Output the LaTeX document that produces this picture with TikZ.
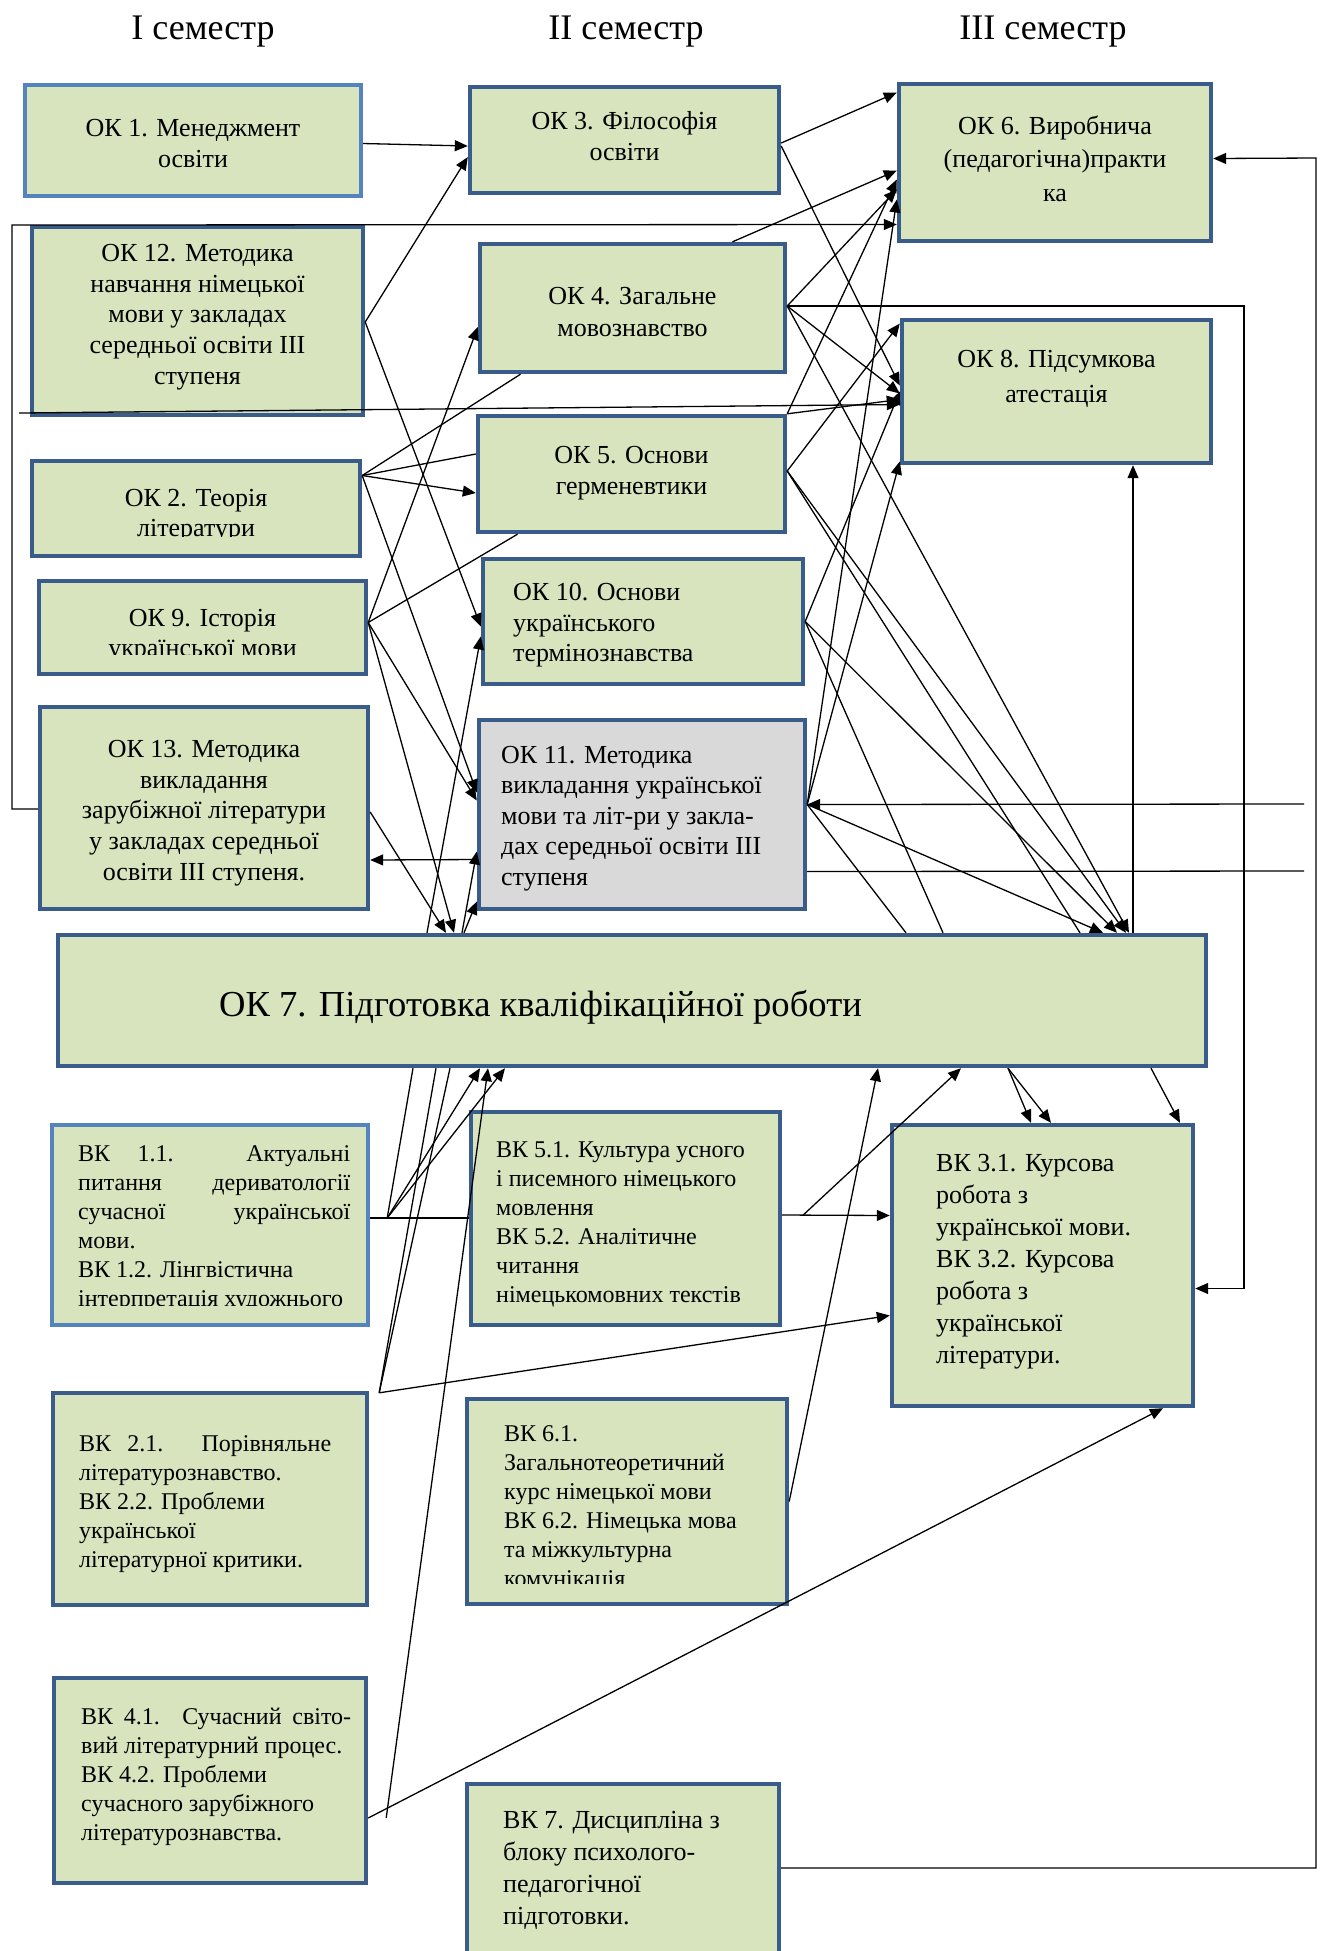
\documentclass[tikz,border=0pt]{standalone}
\usepackage{fontspec}
\setmainfont{Liberation Serif}
\usetikzlibrary{arrows.meta,calc,fit}
\hyphenpenalty=10000
\exhyphenpenalty=10000

\definecolor{boxfill}{RGB}{215,228,189}
\definecolor{boxline}{RGB}{58,92,138}
\definecolor{boxlight}{RGB}{84,131,190}
\definecolor{boxgrey}{RGB}{217,217,217}

\begin{document}
\begin{tikzpicture}[x=0.5pt,y=-0.5pt,
    okbox/.style={draw=boxline,fill=boxfill,line width=2.2pt,inner sep=0pt},
    lightbox/.style={okbox,draw=boxlight},
    greybox/.style={okbox,fill=boxgrey},
    oktext/.style={inner sep=0pt,align=center,font=\fontsize{13}{15.3}\selectfont},
    okleft/.style={oktext,align=left,anchor=west},
    vktext/.style={inner sep=0pt,align=left,anchor=north west,font=\fontsize{12}{14.5}\selectfont},
    vkbig/.style={vktext,font=\fontsize{13}{16}\selectfont},
    vkjust/.style={vktext,align=justify,text width=#1},
    semtext/.style={inner sep=0pt,font=\fontsize{18}{22}\selectfont},
    link/.style={line width=0.65pt},
    arr/.style={link,-{Triangle[length=6.5pt,width=5.5pt]}}]
  \useasboundingbox (0,0) rectangle (1331,1951);

  % semesters
  \node[semtext] (sem1) at (203,32) {I семестр};
  \node[semtext] (sem2) at (626,32) {II семестр};
  \node[semtext] (sem3) at (1043,32) {III семестр};

  % column I
  \node[lightbox,fit={(25,85) (361,196)}] (ok1) {};
  \node[okbox,fit={(32,227) (363,415)}] (ok12) {};
  \node[okbox,fit={(32,461) (360,556)}] (ok2) {};
  \node[okbox,fit={(39,581) (366,674)}] (ok9) {};
  \node[okbox,fit={(40,707) (368,909)}] (ok13) {};
  % column II
  \node[okbox,fit={(470,87) (779,193)}] (ok3) {};
  \node[okbox,fit={(480,244) (785,372)}] (ok4) {};
  \node[okbox,fit={(478,416) (785,532)}] (ok5) {};
  \node[okbox,fit={(483,559) (803,684)}] (ok10) {};
  \node[greybox,fit={(479,720) (805,909)}] (ok11) {};
  % column III
  \node[okbox,fit={(899,84) (1211,241)}] (ok6) {};
  \node[okbox,fit={(902,320) (1211,463)}] (ok8) {};
  % qualification work
  \node[okbox,fit={(58,935) (1206,1066)}] (ok7) {};
  % electives
  \node[lightbox,fit={(52,1125) (368,1325)}] (vk1) {};
  \node[okbox,fit={(471,1112) (780,1325)}] (vk5) {};
  \node[okbox,fit={(892,1125) (1193,1406)}] (vk3) {};
  \node[okbox,fit={(53,1393) (367,1605)}] (vk2) {};
  \node[okbox,fit={(467,1399) (787,1604)}] (vk6) {};
  \node[okbox,fit={(54,1678) (366,1883)}] (vk4) {};
  \node[okbox,fit={(467,1784) (779,1970)}] (vk7) {};

  % texts
  \node[oktext] (ok1t) at ($(ok1.center)+(0,3)$) {ОК 1. Менеджмент\\освіти};
  \node[oktext] (ok12t) at ($(ok12.center)+(0,-4)$) {ОК 12. Методика\\навчання німецької\\мови у закладах\\середньої освіти III\\ступеня};
  \begin{scope}
    \clip (ok2.north west) rectangle ($(ok2.south east)+(0,-22)$);
    \node[oktext] (ok2t) at ($(ok2.center)+(0,7)$) {ОК 2. Теорія\\літератури};
  \end{scope}
  \begin{scope}
    \clip (ok9.north west) rectangle ($(ok9.south east)+(0,-22)$);
    \node[oktext] (ok9t) at ($(ok9.center)+(0,8)$) {ОК 9. Історія\\української мови};
  \end{scope}
  \node[oktext] (ok13t) at ($(ok13.center)+(0,5)$) {ОК 13. Методика\\викладання\\зарубіжної літератури\\у закладах середньої\\освіти III ступеня.};
  \node[oktext] (ok3t) at ($(ok3.center)+(0,-4)$) {ОК 3. Філософія\\освіти};
  \node[oktext,font=\fontsize{13}{16}\selectfont] (ok4t) at ($(ok4.center)+(0,4)$) {ОК 4. Загальне\\мовознавство};
  \node[oktext] (ok5t) at ($(ok5.center)+(0,-1)$) {ОК 5. Основи\\герменевтики};
  \node[okleft] (ok10t) at ($(ok10.west)+(32,4)$) {ОК 10. Основи\\українського\\термінознавства};
  \node[okleft] (ok11t) at ($(ok11.west)+(24,4)$) {ОК 11. Методика\\викладання української\\мови та літ-ри у закла-\\дах середньої освіти III\\ступеня};
  \node[oktext,font=\fontsize{13}{16.8}\selectfont] (ok6t) at ($(ok6.center)+(0,-4)$) {ОК 6. Виробнича\\(педагогічна)практи\\ка};
  \node[oktext,font=\fontsize{13}{17.4}\selectfont] (ok8t) at ($(ok8.center)+(0,-13)$) {ОК 8. Підсумкова\\атестація};
  \node[okleft,font=\fontsize{18.3}{22}\selectfont] (ok7t) at ($(ok7.west)+(163,7)$) {ОК 7. Підготовка кваліфікаційної роботи};
  \begin{scope}
    \clip (vk1.north west) rectangle ($(vk1.south east)+(0,-22)$);
    \node[vkjust=136pt] (vk1t) at ($(vk1.north west)+(28,22)$) {ВК 1.1. Актуальні\linebreak питання дериватології\linebreak сучасної української\linebreak мови.\\ВК 1.2. Лінгвістична\\інтерпретація художнього};
  \end{scope}
  \node[vktext] (vk5t) at ($(vk5.north west)+(27,31)$) {ВК 5.1. Культура усного\\і писемного німецького\\мовлення\\ВК 5.2. Аналітичне\\читання\\німецькомовних текстів};
  \node[vkbig] (vk3t) at ($(vk3.north west)+(46,31)$) {ВК 3.1. Курсова\\робота з\\української мови.\\ВК 3.2. Курсова\\робота з\\української\\літератури.};
  \node[vkjust=126pt] (vk2t) at ($(vk2.north west)+(28,44)$) {ВК 2.1. Порівняльне\linebreak літературознавство.\\ВК 2.2. Проблеми\\української\\літературної критики.};
  \begin{scope}
    \clip (vk6.north west) rectangle ($(vk6.south east)+(0,-23)$);
    \node[vktext] (vk6t) at ($(vk6.north west)+(39,28)$) {ВК 6.1.\\Загальнотеоретичний\\курс німецької мови\\ВК 6.2. Німецька мова\\та міжкультурна\\комунікація};
  \end{scope}
  \node[vkjust=135pt] (vk4t) at ($(vk4.north west)+(29,32)$) {ВК 4.1. Сучасний світо-\linebreak вий літературний процес.\\ВК 4.2. Проблеми\\сучасного зарубіжного\\літературознавства.};
  \node[vkbig] (vk7t) at ($(vk7.north west)+(38,29)$) {ВК 7. Дисципліна з\\блоку психолого-\\педагогічної\\підготовки.};

  % free ends and bends
  \coordinate (busL) at (12,225);
  \coordinate (busA) at (1244,306);
  \coordinate (busR) at (1316,158);
  \coordinate (inL) at (19,413);
  \coordinate (inR) at (1304,804);
  \coordinate (outR) at (1304,871);
  \coordinate (fan1) at ($(vk1.east)+(17,-7)$);
  \coordinate (fan2) at ($(vk2.north east)+(10,2)$);
  \coordinate (fan4) at ($(vk4.east)+(18,37.5)$);
  \coordinate (fan5) at ($(vk5.east)+(21,-3.5)$);

  % semester I -> semester II
  \draw[arr] ($(ok1.east)+(0,3)$) -- ($(ok3.west)+(0,6)$);
  \draw[arr] ($(ok12.east)+(0,1)$) -- ($(ok3.west)+(0,17)$);
  \draw[arr] ($(ok12.east)+(0,1)$) -- ($(ok10.west)+(0,5)$);
  \draw[link] ($(ok2.east)+(0,-33)$) -- ($(ok4.south)+(-112,0)$);
  \draw[link] ($(ok2.east)+(0,-33)$) -- ($(ok5.west)+(0,-20)$);
  \draw[arr] ($(ok2.east)+(0,-33)$) -- ($(ok5.west)+(0,19)$);
  \draw[arr] ($(ok2.east)+(0,-33)$) -- ($(ok11.west)+(0,-22)$);
  \draw[arr] ($(ok9.east)+(0,-5)$) -- ($(ok4.west)+(0,19)$);
  \draw[link] ($(ok9.east)+(0,-5)$) -- ($(ok5.south)+(-114,0)$);
  \draw[arr] ($(ok9.east)+(0,-5)$) -- ($(ok7.north)+(-178,0)$);
  \draw[arr] ($(ok9.east)+(0,-5)$) -- ($(ok11.west)+(0,-14)$);
  \draw[arr] ($(ok13.east)+(0,4)$) -- ($(ok7.north)+(-186,0)$);
  \draw[arr] ($(ok11.west)+(0,45)$) -- ($(ok13.east)+(0,52)$);
  \draw[arr] ($(ok7.north)+(-205,0)$) -- ($(ok10.west)+(0,15)$);
  \draw[arr] ($(ok7.north)+(-170,0)$) -- ($(ok11.west)+(0,37)$);
  \draw[arr] ($(ok7.north)+(-168,0)$) -- ($(ok11.west)+(0,87)$);

  % semester II -> semester III
  \draw[arr] ($(ok3.east)+(0,3)$) -- ($(ok6.west)+(0,-70)$);
  \draw[arr] ($(ok3.east)+(0,6)$) -- ($(ok8.west)+(0,-6)$);
  \draw[arr] ($(ok4.north)+(100,0)$) -- ($(ok6.west)+(0,8)$);
  \draw[arr] ($(ok4.east)+(0,-2)$) -- ($(ok6.west)+(0,27)$);
  \draw[arr] ($(ok4.east)+(0,-2)$) -- ($(ok8.west)+(0,2)$);
  \draw[arr] ($(ok4.east)+(0,-2)$) -- ($(ok7.north)+(497,0)$);
  \draw[arr] (ok5.north east) -- ($(ok6.west)+(0,17)$);
  \draw[arr] (ok5.north east) -- ($(ok8.west)+(0,8)$);
  \draw[arr] ($(ok5.east)+(0,-3)$) -- ($(ok8.west)+(0,-68)$);
  \draw[arr] ($(ok5.east)+(0,-3)$) -- ($(ok7.north)+(494,0)$);
  \draw[link] ($(ok5.east)+(0,-3)$) -- ($(ok7.north)+(448,0)$);
  \draw[arr] (ok10.east) -- ($(ok8.west)+(0,0)$);
  \draw[arr] (ok10.east) -- ($(ok7.north)+(485,0)$);
  \draw[link] (ok10.east) -- ($(ok7.north)+(311,0)$);
  \draw[arr] ($(ok11.east)+(0,-10)$) -- ($(ok6.west)+(0,37)$);
  \draw[arr] ($(ok11.east)+(0,-10)$) -- ($(ok8.west)+(0,70)$);
  \draw[arr] ($(ok11.east)+(0,-10)$) -- ($(ok7.north)+(471,0)$);
  \draw[link] ($(ok11.east)+(0,-10)$) -- ($(ok7.north)+(274,0)$);
  \draw[arr] ($(ok7.north)+(501,0)$) -- ($(ok8.south)+(76.5,0)$);

  % outer lines
  \draw[arr] ($(ok13.west)+(0,1)$) -| (busL) -- ($(ok6.west)+(0,62)$);
  \draw[arr] ($(ok4.east)+(0,-2)$) -- (busA) |- ($(vk3.east)+(0,23)$);
  \draw[arr] ($(vk7.east)+(0,-9)$) -| (busR) -- ($(ok6.east)+(0,-4)$);
  \draw[arr] (inL) -- ($(ok8.west)+(0,13)$);
  \draw[arr] (inR) -- ($(ok11.east)+(0,-10)$);
  \draw[link] ($(ok11.east)+(0,57)$) -- (outR);

  % qualification work and electives
  \draw[arr] ($(ok7.south)+(376,0)$) -- ($(vk3.north)+(-11.5,0)$);
  \draw[arr] ($(ok7.south)+(376,0)$) -- ($(vk3.north)+(8.5,0)$);
  \draw[arr] ($(ok7.south)+(519,0)$) -- ($(vk3.north)+(137.5,0)$);
  \draw[link] ($(vk1.east)+(0,-7)$) -- ($(vk5.west)+(0,-0.5)$);
  \draw[link] (fan1) -- ($(ok7.south)+(-219,0)$);
  \draw[arr] (fan1) -- ($(ok7.south)+(-152,0)$);
  \draw[arr] (fan1) -- ($(ok7.south)+(-127,0)$);
  \draw[link] (fan2) -- ($(ok7.south)+(-196,0)$);
  \draw[link] (fan2) -- ($(ok7.south)+(-182,0)$);
  \draw[arr] (fan2) -- ($(vk3.west)+(0,50)$);
  \draw[arr] ($(vk4.east)+(0,37.5)$) -- ($(vk3.south)+(120.5,0)$);
  \draw[arr] (fan4) -- ($(ok7.south)+(-144,0)$);
  \draw[arr] ($(vk5.east)+(0,-3.5)$) -- ($(vk3.west)+(0,-50)$);
  \draw[arr] (fan5) -- ($(ok7.south)+(329,0)$);
  \draw[arr] (vk6.east) -- ($(ok7.south)+(246,0)$);
\end{tikzpicture}
\end{document}
